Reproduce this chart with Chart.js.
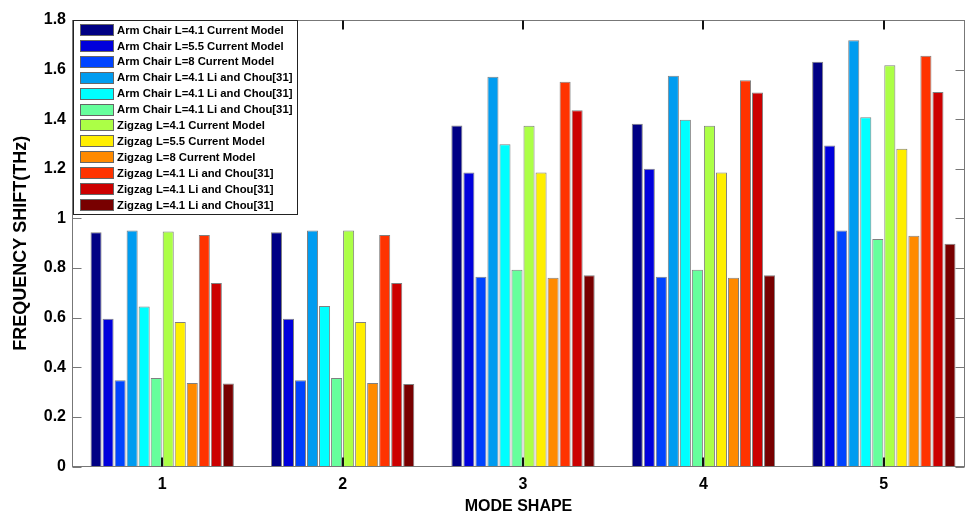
<!DOCTYPE html>
<html>
<head>
<meta charset="utf-8">
<script src="https://cdn.jsdelivr.net/npm/chart.js@4.4.1/dist/chart.umd.min.js"></script>
<style>
  html, body { margin: 0; padding: 0; background: #ffffff; }
  #wrap { width: 975px; height: 516px; position: relative; }
</style>
</head>
<body>
<div id="wrap"><canvas id="c" width="975" height="516"></canvas></div>
<script>
// ---- data ----
const modes = [1, 2, 3, 4, 5];
const xTickLabels = ['1', '2', '3', '4', '5'];
const yTickValues = [0, 0.2, 0.4, 0.6, 0.8, 1, 1.2, 1.4, 1.6, 1.8];
const yTickLabels = ['0', '0.2', '0.4', '0.6', '0.8', '1', '1.2', '1.4', '1.6', '1.8'];

const seriesLabels = [
  'Arm Chair L=4.1 Current Model',
  'Arm Chair L=5.5 Current Model',
  'Arm Chair L=8 Current Model',
  'Arm Chair L=4.1 Li and Chou[31]',
  'Arm Chair L=4.1 Li and Chou[31]',
  'Arm Chair L=4.1 Li and Chou[31]',
  'Zigzag L=4.1 Current Model',
  'Zigzag L=5.5 Current Model',
  'Zigzag L=8 Current Model',
  'Zigzag L=4.1 Li and Chou[31]',
  'Zigzag L=4.1 Li and Chou[31]',
  'Zigzag L=4.1 Li and Chou[31]'
];

const armChair41Current = [0.944, 0.944, 1.375, 1.382, 1.632];
const armChair55Current = [0.596, 0.596, 1.185, 1.200, 1.294];
const armChair8Current  = [0.348, 0.348, 0.765, 0.765, 0.951];
const armChairLiChouA   = [0.951, 0.951, 1.571, 1.575, 1.718];
const armChairLiChouB   = [0.645, 0.647, 1.299, 1.398, 1.408];
const armChairLiChouC   = [0.357, 0.357, 0.793, 0.793, 0.917];
const zigzag41Current   = [0.947, 0.951, 1.374, 1.374, 1.618];
const zigzag55Current   = [0.583, 0.583, 1.185, 1.185, 1.281];
const zigzag8Current    = [0.337, 0.337, 0.761, 0.761, 0.930];
const zigzagLiChouA     = [0.933, 0.933, 1.551, 1.557, 1.656];
const zigzagLiChouB     = [0.740, 0.740, 1.436, 1.508, 1.510];
const zigzagLiChouC     = [0.335, 0.333, 0.771, 0.771, 0.898];

const seriesValues = [
  armChair41Current, armChair55Current, armChair8Current,
  armChairLiChouA, armChairLiChouB, armChairLiChouC,
  zigzag41Current, zigzag55Current, zigzag8Current,
  zigzagLiChouA, zigzagLiChouB, zigzagLiChouC
];

const seriesColors = [
  '#000084', '#0000dc', '#0044ff', '#009cf0', '#00ffff', '#66ff9c',
  '#acff46', '#ffee00', '#ff8a00', '#ff3300', '#cc0000', '#780000'
];

// ---- plugins ----
const FONT = '"Liberation Sans", Arial, sans-serif';

const axesBox = {
  id: 'axesBox',
  afterDatasetsDraw(chart) {
    const { ctx, chartArea: a, scales } = chart;
    const x = scales.x, y = scales.y;
    const L = Math.round(a.left) + 0.5, R = Math.round(a.right) - 0.5;
    const T = Math.round(a.top) + 0.5, B = Math.round(a.bottom) - 0.5;
    ctx.save();
    ctx.strokeStyle = '#777777';
    ctx.lineWidth = 1;
    ctx.strokeRect(L, T, R - L, B - T);
    ctx.beginPath();
    y.ticks.forEach(t => {
      const py = Math.round(y.getPixelForValue(t.value)) + 0.5;
      ctx.moveTo(L, py); ctx.lineTo(L + 9, py);
      ctx.moveTo(R, py); ctx.lineTo(R - 9, py);
    });
    ctx.stroke();
    ctx.strokeStyle = '#111111';
    ctx.lineWidth = 2;
    ctx.beginPath();
    x.ticks.forEach(t => {
      const px = Math.round(x.getPixelForValue(t.value));
      ctx.moveTo(px, B); ctx.lineTo(px, B - 9);
      ctx.moveTo(px, T); ctx.lineTo(px, T + 9);
    });
    ctx.stroke();
    ctx.restore();
  }
};

const boxLegend = {
  id: 'boxLegend',
  afterDraw(chart) {
    const { ctx } = chart;
    const ds = chart.data.datasets;
    const bx = 73.5, by = 20.5, bw = 224, bh = 194;
    ctx.save();
    ctx.fillStyle = '#ffffff';
    ctx.fillRect(bx, by, bw, bh);
    ctx.strokeStyle = '#222222';
    ctx.lineWidth = 1;
    ctx.strokeRect(bx, by, bw, bh);
    ctx.font = 'bold 11.3px ' + FONT;
    ctx.textBaseline = 'middle';
    ctx.textAlign = 'left';
    ds.forEach((d, i) => {
      const cy = 30 + i * 15.9;
      ctx.fillStyle = d.backgroundColor;
      ctx.fillRect(80, Math.round(cy - 6), 34, 12);
      ctx.strokeStyle = '#666666';
      ctx.strokeRect(80.5, Math.round(cy - 6) + 0.5, 33, 11);
      ctx.fillStyle = '#000000';
      ctx.fillText(d.label, 117, cy + 0.5);
    });
    ctx.restore();
  }
};

// ---- chart ----
const datasets = seriesLabels.map((lab, i) => ({
  label: lab,
  data: modes.map((m, j) => ({ x: m, y: seriesValues[i][j] })),
  backgroundColor: seriesColors[i],
  borderColor: '#808080',
  borderWidth: 1,
  categoryPercentage: 0.8,
  barPercentage: 0.92
}));

new Chart(document.getElementById('c'), {
  type: 'bar',
  data: { datasets },
  plugins: [axesBox, boxLegend],
  options: {
    responsive: false,
    animation: false,
    devicePixelRatio: 1,
    layout: { padding: { top: 20, right: 10, left: 0, bottom: 0 } },
    plugins: { legend: { display: false }, tooltip: { enabled: false } },
    scales: {
      x: {
        type: 'linear',
        min: 0.5,
        max: 5.45,
        offset: false,
        afterBuildTicks: (s) => { s.ticks = modes.map(v => ({ value: v })); },
        afterFit: (s) => { s.height = 49.5; },
        grid: { display: false, drawTicks: false },
        border: { display: false },
        ticks: {
          padding: 8,
          color: '#000',
          font: { family: FONT, size: 16, weight: 'bold' },
          callback: (v) => { const k = modes.indexOf(v); return k >= 0 ? xTickLabels[k] : ''; }
        },
        title: {
          display: true,
          text: 'MODE SHAPE',
          color: '#000',
          font: { family: FONT, size: 16, weight: 'bold' },
          padding: { top: 1, bottom: 0 }
        }
      },
      y: {
        min: 0,
        max: 1.8,
        afterBuildTicks: (s) => { s.ticks = yTickValues.map(v => ({ value: v })); },
        afterFit: (s) => { s.width = 72; },
        grid: { display: false, drawTicks: false },
        border: { display: false },
        ticks: {
          padding: 6,
          color: '#000',
          font: { family: FONT, size: 16, weight: 'bold' },
          callback: (v) => { const k = yTickValues.findIndex(t => Math.abs(t - v) < 1e-9); return k >= 0 ? yTickLabels[k] : ''; }
        },
        title: {
          display: true,
          text: 'FREQUENCY SHIFT(THz)',
          color: '#000',
          font: { family: FONT, size: 18, weight: 'bold' },
          padding: { top: 10, bottom: 0 }
        }
      }
    }
  }
});
</script>
</body>
</html>
